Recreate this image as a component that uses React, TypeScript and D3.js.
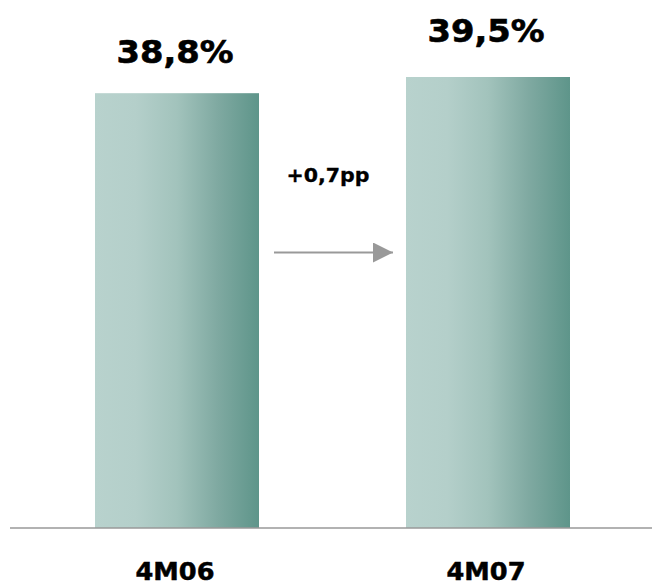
import React from "react";
import * as d3 from "d3";

const categories = ["4M06", "4M07"];
const values = [38.8, 39.5];
const valueLabels = ["38,8%", "39,5%"];
const deltaLabel = "+0,7pp";

const W = 652;
const H = 586;

export default function App() {
  const barX = d3.scalePoint<string>().domain(categories).range([95, 406]);
  const barW = 164;
  const y = d3.scaleLinear().domain([20, 39.5]).range([528, 77]);
  const labelOffsets = [30, 35];
  const font = "'DejaVu Sans', Verdana, sans-serif";
  return (
    <svg width={W} height={H} style={{ position: "absolute", left: 0, top: 0, background: "#fff" }}>
      <defs>
        <linearGradient id="barGrad" x1="0" x2="1" y1="0" y2="0">
          <stop offset="0%" stopColor="#b8d2cd" />
          <stop offset="25%" stopColor="#b4cfca" />
          <stop offset="50%" stopColor="#a2c3bc" />
          <stop offset="75%" stopColor="#7fa9a1" />
          <stop offset="100%" stopColor="#5e958a" />
        </linearGradient>
        <marker id="arrowHead" viewBox="0 0 20 20" refX="20" refY="10" markerWidth="20" markerHeight="20" markerUnits="userSpaceOnUse" orient="auto">
          <path d="M0,0 L20,10 L0,20 Z" fill="#999999" />
        </marker>
      </defs>
      {categories.map((c, i) => (
        <g key={c}>
          <rect x={barX(c)} y={y(values[i])} width={barW} height={y(20) - y(values[i])} fill="url(#barGrad)" />
          <text x={(barX(c) as number) + barW / 2 - 2} y={y(values[i]) - labelOffsets[i]} textAnchor="middle" fontFamily={font} fontWeight="bold" fontSize={31.5} textLength={117} lengthAdjust="spacingAndGlyphs" fill="#000" stroke="#000" strokeWidth={0.6}>
            {valueLabels[i]}
          </text>
          <text x={(barX(c) as number) + barW / 2 - 2} y={580} textAnchor="middle" fontFamily={font} fontWeight="bold" fontSize={24} textLength={79} lengthAdjust="spacingAndGlyphs" fill="#000" stroke="#000" strokeWidth={0.5}>
            {c}
          </text>
        </g>
      ))}
      <line x1={10} x2={652} y1={y(20)} y2={y(20)} stroke="#999999" strokeWidth={1.5} />
      <line x1={274} x2={393} y1={252.5} y2={252.5} stroke="#999999" strokeWidth={2} markerEnd="url(#arrowHead)" />
      <text x={328} y={182} textAnchor="middle" fontFamily={font} fontWeight="bold" fontSize={19} textLength={83} lengthAdjust="spacingAndGlyphs" fill="#000" stroke="#000" strokeWidth={0.3}>
        {deltaLabel}
      </text>
    </svg>
  );
}
